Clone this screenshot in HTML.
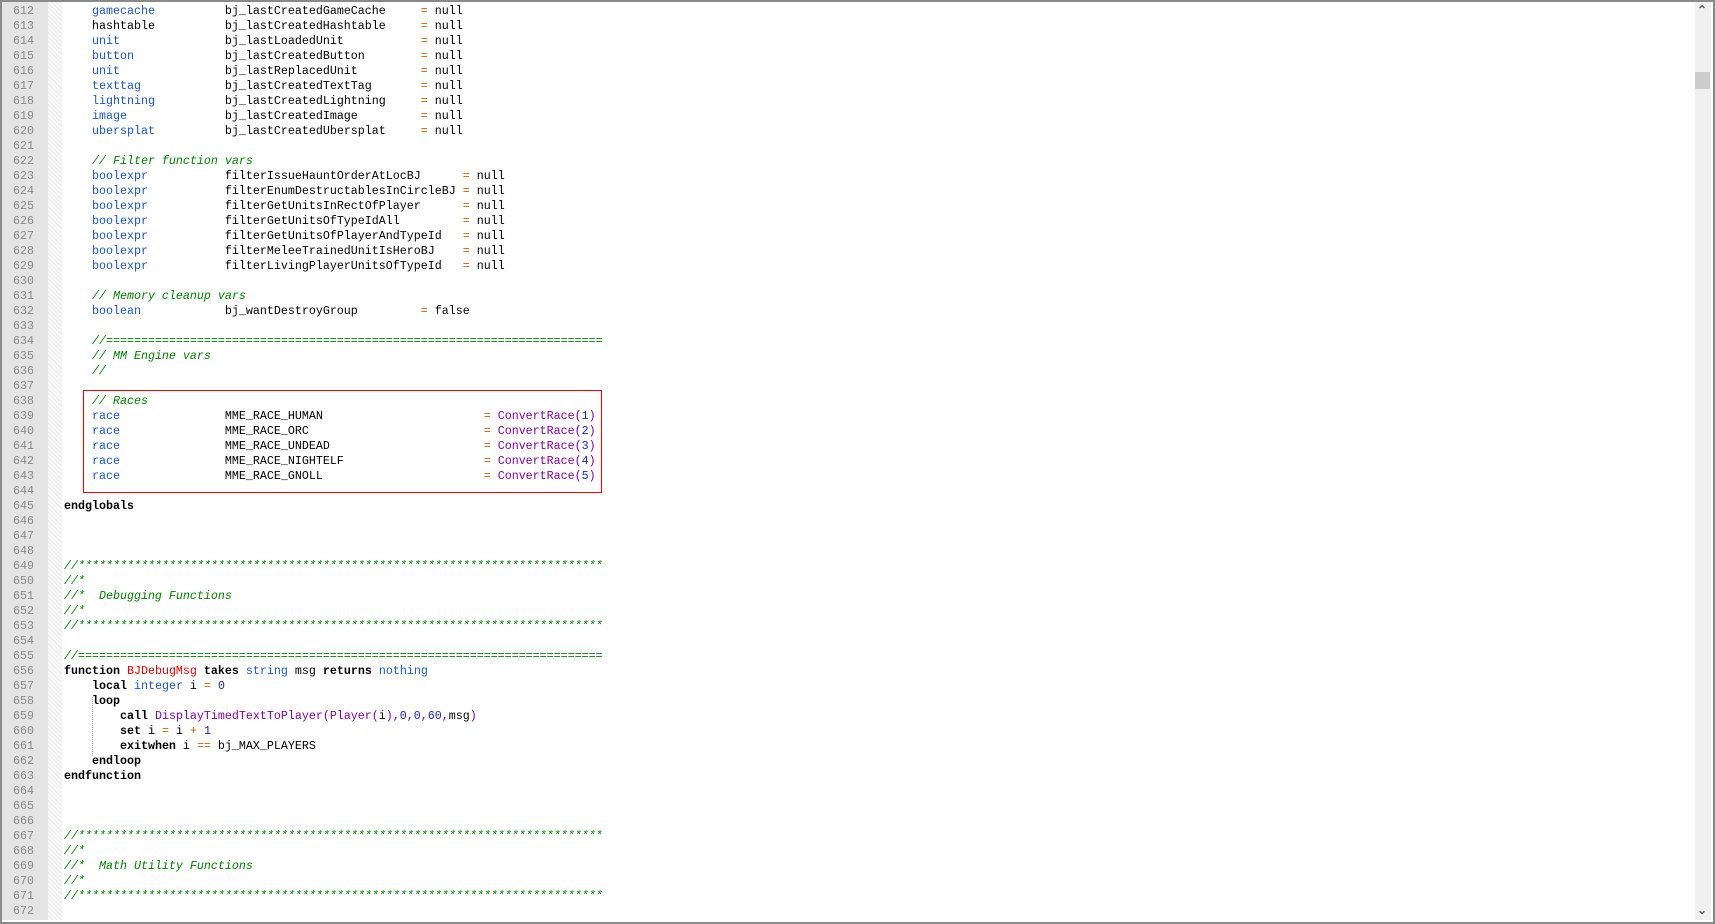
<!DOCTYPE html>
<html><head><meta charset="utf-8"><style>
html,body{margin:0;padding:0;background:#fff;}
body{width:1715px;height:924px;position:relative;overflow:hidden;}
.frame{position:absolute;left:0;top:0;width:1711px;height:920px;border:2px solid #8a8a8a;box-sizing:content-box;}
.gut{position:absolute;left:2px;top:2px;width:46px;height:918px;background:#e4e4e4;}
.fold{position:absolute;left:48px;top:2px;width:14px;height:918px;background-color:#f8f8f8;background-image:repeating-linear-gradient(45deg,#ececec 0 1px,transparent 1px 3px);}
.sb{position:absolute;left:1695px;top:2px;width:16px;height:918px;background:#f0f0f0;}
.thumb{position:absolute;left:1695px;top:72px;width:15px;height:17px;background:#cdcdcd;}
pre{margin:0;font-family:"Liberation Mono",monospace;font-size:11.67px;line-height:15px;position:absolute;top:3.5px;}
.ln{left:2px;width:32px;text-align:right;color:#8a8a8a;}
.code{left:64px;color:#000;}
.t{color:#1a56c8;}
.c{color:#008000;font-style:italic;}
.o{color:#c86400;}
.f{color:#8000a0;}
.n{color:#2020c0;}
.r{color:#e00000;}
.box{position:absolute;left:83px;top:390px;width:517px;height:101px;border:1px solid #ff0000;}
.ig{position:absolute;left:92px;top:697px;height:59px;border-left:1px dotted #b0b0b0;}
.arr{position:absolute;left:1697px;font-family:"Liberation Sans",sans-serif;font-size:12px;color:#606060;font-weight:bold;}
</style></head><body>
<div class="frame"></div>
<div class="gut"></div>
<div class="fold"></div>
<div class="sb"></div>
<div class="thumb"></div>
<div class="arr" style="top:3px;">&#8963;</div>
<div class="arr" style="top:903px;">&#8964;</div>
<pre class="ln">612
613
614
615
616
617
618
619
620
621
622
623
624
625
626
627
628
629
630
631
632
633
634
635
636
637
638
639
640
641
642
643
644
645
646
647
648
649
650
651
652
653
654
655
656
657
658
659
660
661
662
663
664
665
666
667
668
669
670
671
672</pre>
<div class="ig"></div>
<pre class="code">    <span class="t">gamecache</span>          bj_lastCreatedGameCache     <span class="o">=</span> null
    hashtable          bj_lastCreatedHashtable     <span class="o">=</span> null
    <span class="t">unit</span>               bj_lastLoadedUnit           <span class="o">=</span> null
    <span class="t">button</span>             bj_lastCreatedButton        <span class="o">=</span> null
    <span class="t">unit</span>               bj_lastReplacedUnit         <span class="o">=</span> null
    <span class="t">texttag</span>            bj_lastCreatedTextTag       <span class="o">=</span> null
    <span class="t">lightning</span>          bj_lastCreatedLightning     <span class="o">=</span> null
    <span class="t">image</span>              bj_lastCreatedImage         <span class="o">=</span> null
    <span class="t">ubersplat</span>          bj_lastCreatedUbersplat     <span class="o">=</span> null

    <span class="c">// Filter function vars</span>
    <span class="t">boolexpr</span>           filterIssueHauntOrderAtLocBJ      <span class="o">=</span> null
    <span class="t">boolexpr</span>           filterEnumDestructablesInCircleBJ <span class="o">=</span> null
    <span class="t">boolexpr</span>           filterGetUnitsInRectOfPlayer      <span class="o">=</span> null
    <span class="t">boolexpr</span>           filterGetUnitsOfTypeIdAll         <span class="o">=</span> null
    <span class="t">boolexpr</span>           filterGetUnitsOfPlayerAndTypeId   <span class="o">=</span> null
    <span class="t">boolexpr</span>           filterMeleeTrainedUnitIsHeroBJ    <span class="o">=</span> null
    <span class="t">boolexpr</span>           filterLivingPlayerUnitsOfTypeId   <span class="o">=</span> null

    <span class="c">// Memory cleanup vars</span>
    <span class="t">boolean</span>            bj_wantDestroyGroup         <span class="o">=</span> false

    <span class="c">//=======================================================================</span>
    <span class="c">// MM Engine vars</span>
    <span class="c">//</span>

    <span class="c">// Races</span>
    <span class="t">race</span>               MME_RACE_HUMAN                       <span class="o">=</span> <span class="f">ConvertRace(</span><span class="n">1</span><span class="f">)</span>
    <span class="t">race</span>               MME_RACE_ORC                         <span class="o">=</span> <span class="f">ConvertRace(</span><span class="n">2</span><span class="f">)</span>
    <span class="t">race</span>               MME_RACE_UNDEAD                      <span class="o">=</span> <span class="f">ConvertRace(</span><span class="n">3</span><span class="f">)</span>
    <span class="t">race</span>               MME_RACE_NIGHTELF                    <span class="o">=</span> <span class="f">ConvertRace(</span><span class="n">4</span><span class="f">)</span>
    <span class="t">race</span>               MME_RACE_GNOLL                       <span class="o">=</span> <span class="f">ConvertRace(</span><span class="n">5</span><span class="f">)</span>

<b>endglobals</b>



<span class="c">//***************************************************************************</span>
<span class="c">//*</span>
<span class="c">//*  Debugging Functions</span>
<span class="c">//*</span>
<span class="c">//***************************************************************************</span>

<span class="c">//===========================================================================</span>
<b>function</b> <span class="r">BJDebugMsg</span> <b>takes</b> <span class="t">string</span> msg <b>returns</b> <span class="t">nothing</span>
    <b>local</b> <span class="t">integer</span> i <span class="o">=</span> <span class="n">0</span>
    <b>loop</b>
        <b>call</b> <span class="f">DisplayTimedTextToPlayer(Player(</span>i<span class="f">),</span><span class="n">0</span><span class="f">,</span><span class="n">0</span><span class="f">,</span><span class="n">60</span><span class="f">,</span>msg<span class="f">)</span>
        <b>set</b> i <span class="o">=</span> i <span class="o">+</span> <span class="n">1</span>
        <b>exitwhen</b> i <span class="o">==</span> bj_MAX_PLAYERS
    <b>endloop</b>
<b>endfunction</b>



<span class="c">//***************************************************************************</span>
<span class="c">//*</span>
<span class="c">//*  Math Utility Functions</span>
<span class="c">//*</span>
<span class="c">//***************************************************************************</span>
</pre>
<div class="box"></div>
</body></html>
